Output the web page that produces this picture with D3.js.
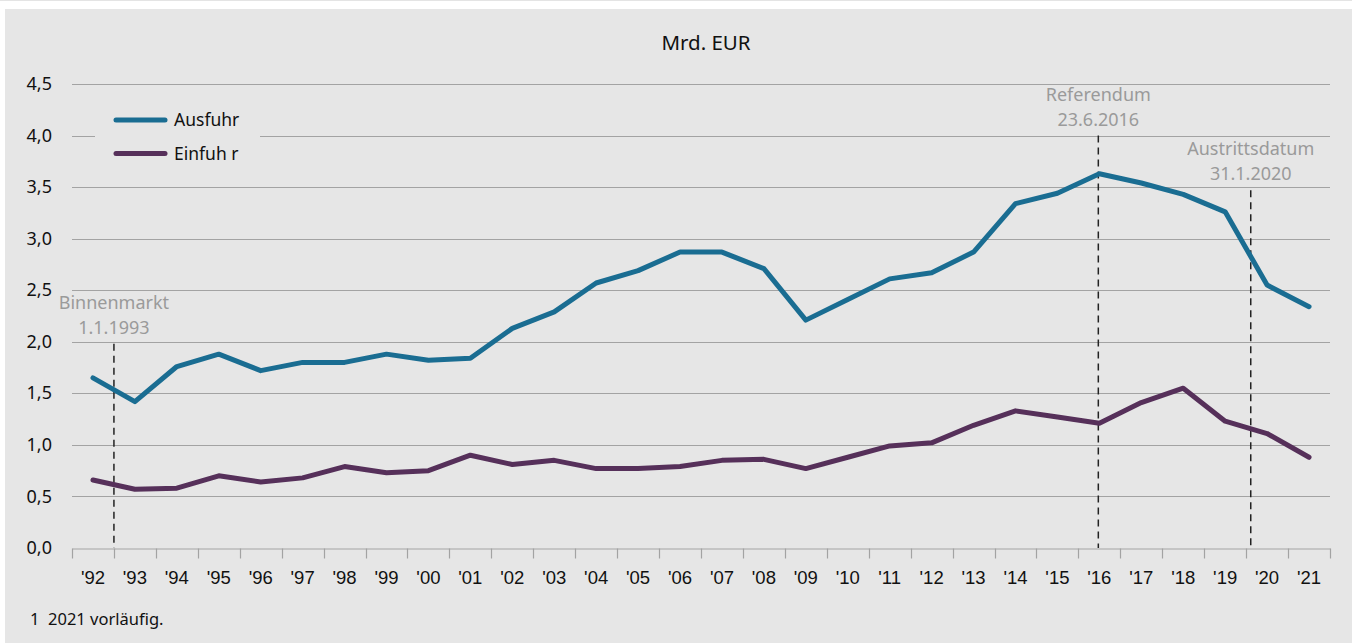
<!DOCTYPE html>
<html>
<head>
<meta charset="utf-8">
<script src="https://cdn.jsdelivr.net/npm/d3@7"></script>
<style>
  body { margin: 0; background: #fff; }
  svg { display: block; font-family: "Noto Sans", sans-serif; }
</style>
</head>
<body>
<script>
// Daten (Mrd. EUR)
let years = d3.range(1992, 2022)
let yearLabels = years.map(function(y) { return "'" + String(y).slice(2) })
let ausfuhr = [1.65, 1.42, 1.76, 1.88, 1.72, 1.80, 1.80, 1.88, 1.82, 1.84,
               2.13, 2.29, 2.57, 2.69, 2.87, 2.87, 2.71, 2.21, 2.41, 2.61,
               2.67, 2.87, 3.34, 3.44, 3.63, 3.54, 3.43, 3.26, 2.55, 2.34]
let einfuhr = [0.66, 0.57, 0.58, 0.70, 0.64, 0.68, 0.79, 0.73, 0.75, 0.90,
               0.81, 0.85, 0.77, 0.77, 0.79, 0.85, 0.86, 0.77, 0.88, 0.99,
               1.02, 1.19, 1.33, 1.27, 1.21, 1.41, 1.55, 1.23, 1.11, 0.88]
let yTicks = [0, 0.5, 1, 1.5, 2, 2.5, 3, 3.5, 4, 4.5]
let seriesNames = ["Ausfuhr", "Einfuh r"]
let events = [
  {date: 1993.0, lines: ["Binnenmarkt", "1.1.1993"], top: 1.98},
  {date: 2016.475, lines: ["Referendum", "23.6.2016"], top: 4.0},
  {date: 2020.11, lines: ["Austrittsdatum", "31.1.2020"], top: 3.47}
]

let width = 1352
let height = 643
let padding = {left: 72, right: 22, top: 84, bottom: 95}

let blue = "#1a6d92"
let purple = "#56305a"
let grid = "#a3a3a3"

let svg = d3.select("body")
    .append("svg")
    .attr("width", width)
    .attr("height", height)

// Hintergrund
svg.append("rect")
    .attr("x", 0).attr("y", 0)
    .attr("width", width).attr("height", 1)
    .attr("fill", "#e4e4e4")
svg.append("rect")
    .attr("x", 5).attr("y", 9)
    .attr("width", width - 5).attr("height", height - 9)
    .attr("fill", "#e6e6e6")

let xBand = d3.scaleBand()
    .domain(years)
    .range([padding.left, width - padding.right])
let xTime = d3.scaleLinear()
    .domain([1992, 2022])
    .range([padding.left, width - padding.right])
let yScale = d3.scaleLinear()
    .domain([0, 4.5])
    .range([height - padding.bottom, padding.top])

// Gitterlinien
svg.append("g")
    .selectAll("line")
    .data(yTicks.slice(1))
    .enter()
    .append("line")
    .attr("x1", padding.left)
    .attr("x2", width - padding.right)
    .attr("y1", function(d) { return Math.round(yScale(d)) + 0.5 })
    .attr("y2", function(d) { return Math.round(yScale(d)) + 0.5 })
    .attr("stroke", grid)
    .attr("stroke-width", 1.2)

// y-Achse Beschriftung
svg.append("g")
    .selectAll("text")
    .data(yTicks)
    .enter()
    .append("text")
    .attr("x", 52)
    .attr("y", function(d) { return yScale(d) })
    .attr("dy", "0.34em")
    .attr("text-anchor", "end")
    .attr("font-size", 18)
    .attr("fill", "#111")
    .text(function(d) { return d3.format(".1f")(d).replace(".", ",") })

// x-Achse
let xAxis = d3.axisBottom(xBand)
    .tickValues([])
    .tickSizeOuter(0)
let gx = svg.append("g")
    .attr("transform", "translate(0," + (Math.round(yScale(0)) + 0.5) + ")")
    .call(xAxis)
gx.select(".domain").attr("stroke", grid).attr("stroke-width", 1.2)
gx.selectAll(".tick-b")
    .data(d3.range(1992, 2023))
    .enter()
    .append("line")
    .attr("class", "tick-b")
    .attr("x1", function(d) { return Math.round(xTime(d)) + 0.5 })
    .attr("x2", function(d) { return Math.round(xTime(d)) + 0.5 })
    .attr("y1", 0)
    .attr("y2", 10)
    .attr("stroke", grid)
    .attr("stroke-width", 1.2)
gx.selectAll(".lbl")
    .data(years)
    .enter()
    .append("text")
    .attr("class", "lbl")
    .attr("x", function(d) { return xBand(d) + xBand.bandwidth() / 2 })
    .attr("y", 35)
    .attr("text-anchor", "middle")
    .attr("font-size", 18.5)
    .attr("fill", "#111")
    .text(function(d, i) { return yearLabels[i] })

// Ereignisse
let ev = svg.append("g")
ev.selectAll("line")
    .data(events)
    .enter()
    .append("line")
    .attr("x1", function(d) { return xTime(d.date) })
    .attr("x2", function(d) { return xTime(d.date) })
    .attr("y1", function(d) { return yScale(d.top) })
    .attr("y2", yScale(0))
    .attr("stroke", "#222")
    .attr("stroke-width", 1.5)
    .attr("stroke-dasharray", "7,5")
ev.selectAll("text")
    .data(events)
    .enter()
    .append("text")
    .attr("x", function(d) { return xTime(d.date) })
    .attr("y", function(d) { return yScale(d.top) - 35 })
    .attr("text-anchor", "middle")
    .attr("font-size", 18)
    .attr("fill", "#9a9a9a")
    .each(function(d) {
        d3.select(this).selectAll("tspan")
            .data(d.lines)
            .enter()
            .append("tspan")
            .attr("x", xTime(d.date))
            .attr("dy", function(t, i) { return i == 0 ? 0 : 25 })
            .text(function(t) { return t })
    })

// Linien
let line = d3.line()
    .x(function(d, i) { return xBand(years[i]) + xBand.bandwidth() / 2 })
    .y(function(d) { return yScale(d) })

svg.append("path")
    .datum(einfuhr)
    .attr("d", line)
    .attr("fill", "none")
    .attr("stroke", purple)
    .attr("stroke-width", 5)
    .attr("stroke-linejoin", "round")
    .attr("stroke-linecap", "round")

svg.append("path")
    .datum(ausfuhr)
    .attr("d", line)
    .attr("fill", "none")
    .attr("stroke", blue)
    .attr("stroke-width", 5)
    .attr("stroke-linejoin", "round")
    .attr("stroke-linecap", "round")

// Legende
let legend = svg.append("g")
legend.append("rect")
    .attr("x", 95).attr("y", 100)
    .attr("width", 165).attr("height", 70)
    .attr("fill", "#e6e6e6")
let items = legend.selectAll(".item")
    .data(seriesNames)
    .enter()
    .append("g")
    .attr("class", "item")
    .attr("transform", function(d, i) { return "translate(0," + (120 + i * 33.5) + ")" })
items.append("line")
    .attr("x1", 116).attr("x2", 165)
    .attr("y1", 0).attr("y2", 0)
    .attr("stroke", function(d, i) { return i == 0 ? blue : purple })
    .attr("stroke-width", 5)
    .attr("stroke-linecap", "round")
items.append("text")
    .attr("x", 174)
    .attr("y", 6)
    .attr("font-size", 17.5)
    .attr("fill", "#111")
    .text(function(d) { return d })

// Titel
svg.append("text")
    .attr("x", 706)
    .attr("y", 50)
    .attr("text-anchor", "middle")
    .attr("font-size", 20.5)
    .attr("fill", "#111")
    .text("Mrd. EUR")

// Fussnote
svg.append("text")
    .attr("x", 30)
    .attr("y", 625)
    .attr("font-size", 16.5)
    .attr("fill", "#111")
    .style("white-space", "pre")
    .text("1  2021 vorläufig.")
</script>
</body>
</html>
